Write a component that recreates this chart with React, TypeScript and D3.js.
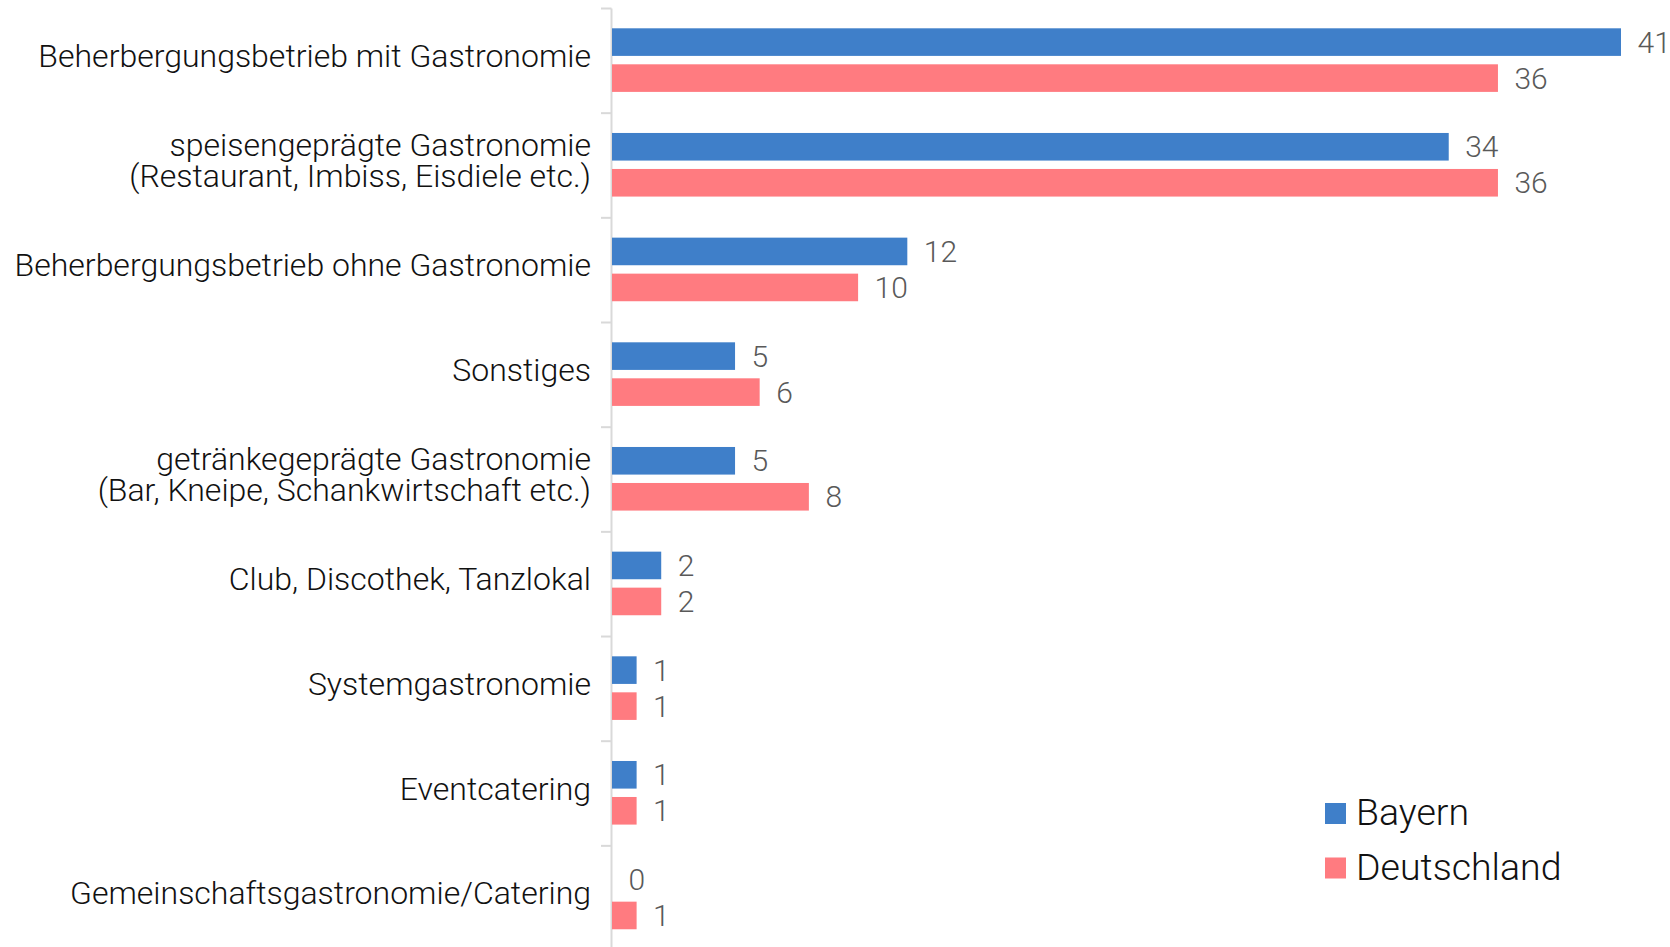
import React from "react";
import * as d3 from "d3";

const categories: string[][] = [
  ["Beherbergungsbetrieb mit Gastronomie"],
  ["speisengeprägte Gastronomie", "(Restaurant, Imbiss, Eisdiele etc.)"],
  ["Beherbergungsbetrieb ohne Gastronomie"],
  ["Sonstiges"],
  ["getränkegeprägte Gastronomie", "(Bar, Kneipe, Schankwirtschaft etc.)"],
  ["Club, Discothek, Tanzlokal"],
  ["Systemgastronomie"],
  ["Eventcatering"],
  ["Gemeinschaftsgastronomie/Catering"],
];
const seriesNames = ["Bayern", "Deutschland"];
const bayern = [41, 34, 12, 5, 5, 2, 1, 1, 0];
const deutschland = [36, 36, 10, 6, 8, 2, 1, 1, 1];
const colors = ["#3f7fc9", "#ff7b80"];

const W = 1670;
const H = 947;
const FONT = "'Roboto Light', Roboto, 'Noto Sans', sans-serif";

export default function App() {
  const keys = categories.map((c) => c.join(" "));
  const x = d3.scaleLinear().domain([0, 41]).range([612, 1621]);
  const y = d3.scaleBand<string>().domain(keys).range([8.5, 8.5 + 104.67 * 9]).paddingInner(0);
  const bw = y.bandwidth();
  const barH = 27.6;
  const off = [19.8, 19.8 + barH + 8.4];
  const series = [bayern, deutschland];
  const axisX = 611.5;

  return (
    <svg
      width={W}
      height={H}
      style={{ position: "absolute", left: 0, top: 0, background: "#fff" }}
      fontFamily={FONT}
    >
      <line x1={axisX} x2={axisX} y1={8.5} y2={H} stroke="#d9d9d9" strokeWidth={2} />
      {d3.range(categories.length + 1).map((i) => {
        const yy = 8.5 + i * bw;
        return <line key={"t" + i} x1={601} x2={axisX} y1={yy} y2={yy} stroke="#d9d9d9" strokeWidth={2} />;
      })}
      {keys.map((k, ci) => {
        const y0 = y(k)!;
        return (
          <g key={k}>
            {series.map((s, si) => {
              const v = s[ci];
              const top = y0 + off[si];
              return (
                <g key={si}>
                  {v > 0 && (
                    <rect x={x(0)} y={top} width={x(v) - x(0)} height={barH} fill={colors[si]} />
                  )}
                  <text
                    x={x(v) + 16.5}
                    y={top + barH / 2 + 10.7}
                    fontSize={30}
                    fontWeight={300}
                    fill="#595959"
                  >
                    {v}
                  </text>
                </g>
              );
            })}
            {categories[ci].map((line, li) => {
              const n = categories[ci].length;
              const c = y0 + bw / 2;
              return (
                <text
                  key={li}
                  x={591}
                  y={c + 6 + (li - (n - 1) / 2) * 31.7}
                  textAnchor="end"
                  fontSize={32}
                  fontWeight={300}
                  fill="#111"
                >
                  {line}
                </text>
              );
            })}
          </g>
        );
      })}
      {seriesNames.map((name, i) => (
        <g key={name}>
          <rect x={1325} y={803 + i * 54.5} width={21} height={21} fill={colors[i]} />
          <text x={1356} y={825 + i * 55} fontSize={37.5} fontWeight={300} fill="#111">
            {name}
          </text>
        </g>
      ))}
    </svg>
  );
}
